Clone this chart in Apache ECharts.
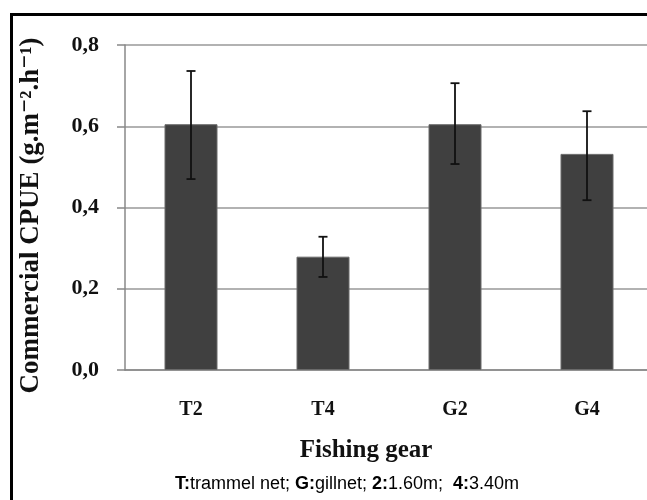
<!DOCTYPE html>
<html><head><meta charset="utf-8">
<script src="https://cdn.jsdelivr.net/npm/echarts@6/dist/echarts.min.js"></script>
<style>html,body{margin:0;padding:0;background:#fff;overflow:hidden}#c{width:660px;height:500px}</style>
</head><body><div id="c"></div>
<script>
const categories = ['T2','T4','G2','G4'];
const means = [0.605, 0.279, 0.605, 0.532];
const errHigh = [0.736, 0.328, 0.706, 0.637];
const errLow = [0.470, 0.229, 0.507, 0.418];
const yTicks = [0, 0.2, 0.4, 0.6, 0.8];

const chart = echarts.init(document.getElementById('c'));
const serif = 'Liberation Serif, DejaVu Serif';
chart.setOption({
  animation: false,
  graphic: [{
    type: 'rect', left: 9, top: 12, shape: {width: 700, height: 600},
    style: {fill: 'none', stroke: '#000', lineWidth: 3}, silent: true
  }, {
    type: 'text', left: 175, top: 475,
    style: {
      text: '{b|T:}trammel net; {b|G:}gillnet; {b|2:}1.60m;  {b|4:}3.40m',
      fontFamily: 'Liberation Sans', fontSize: 18, fill: '#000',
      rich: {b: {fontWeight: 'bold', fontFamily: 'Liberation Sans', fontSize: 18}}
    }
  }],
  grid: {left: 125, top: 45, width: 528, height: 325},
  xAxis: {
    type: 'category', data: categories,
    axisLine: {lineStyle: {color: '#888', width: 1.5}},
    axisTick: {show: false},
    axisLabel: {fontFamily: serif, fontWeight: 'bold', fontSize: 20, color: '#111', margin: 30},
    name: 'Fishing gear', nameLocation: 'middle', nameGap: 68,
    nameTextStyle: {fontFamily: serif, fontWeight: 'bold', fontSize: 25, color: '#111', padding: [0, 46, 0, 0]}
  },
  yAxis: {
    type: 'value', min: 0, max: 0.8, interval: 0.2,
    axisLine: {show: true, lineStyle: {color: '#888', width: 1.5}},
    axisTick: {show: true, length: 8, lineStyle: {color: '#888', width: 1.5}},
    splitLine: {lineStyle: {color: '#999', width: 1.5}},
    axisLabel: {fontFamily: serif, fontWeight: 'bold', fontSize: 22, color: '#111', margin: 26,
      formatter: v => v.toFixed(1).replace('.', ',')},
    name: 'Commercial CPUE (g.m⁻².h⁻¹)', nameLocation: 'middle', nameGap: 80,
    nameTextStyle: {fontFamily: serif, fontWeight: 'bold', fontSize: 27, color: '#111', padding: [0, 16, 0, 0]}
  },
  series: [{
    type: 'bar', data: means, barWidth: 53,
    itemStyle: {color: '#404040', borderColor: '#6a6a6a', borderWidth: 1}
  }, {
    type: 'custom', z: 10,
    data: categories.map((c, i) => [i, errLow[i], errHigh[i]]),
    renderItem: (params, api) => {
      const lo = api.coord([api.value(0), api.value(1)]);
      const hi = api.coord([api.value(0), api.value(2)]);
      const w = 4.5;
      const st = {stroke: '#111', lineWidth: 1.8};
      return {type: 'group', children: [
        {type: 'line', shape: {x1: lo[0], y1: lo[1], x2: hi[0], y2: hi[1]}, style: st},
        {type: 'line', shape: {x1: hi[0] - w, y1: hi[1], x2: hi[0] + w, y2: hi[1]}, style: st},
        {type: 'line', shape: {x1: lo[0] - w, y1: lo[1], x2: lo[0] + w, y2: lo[1]}, style: st}
      ]};
    }
  }]
});
</script></body></html>
